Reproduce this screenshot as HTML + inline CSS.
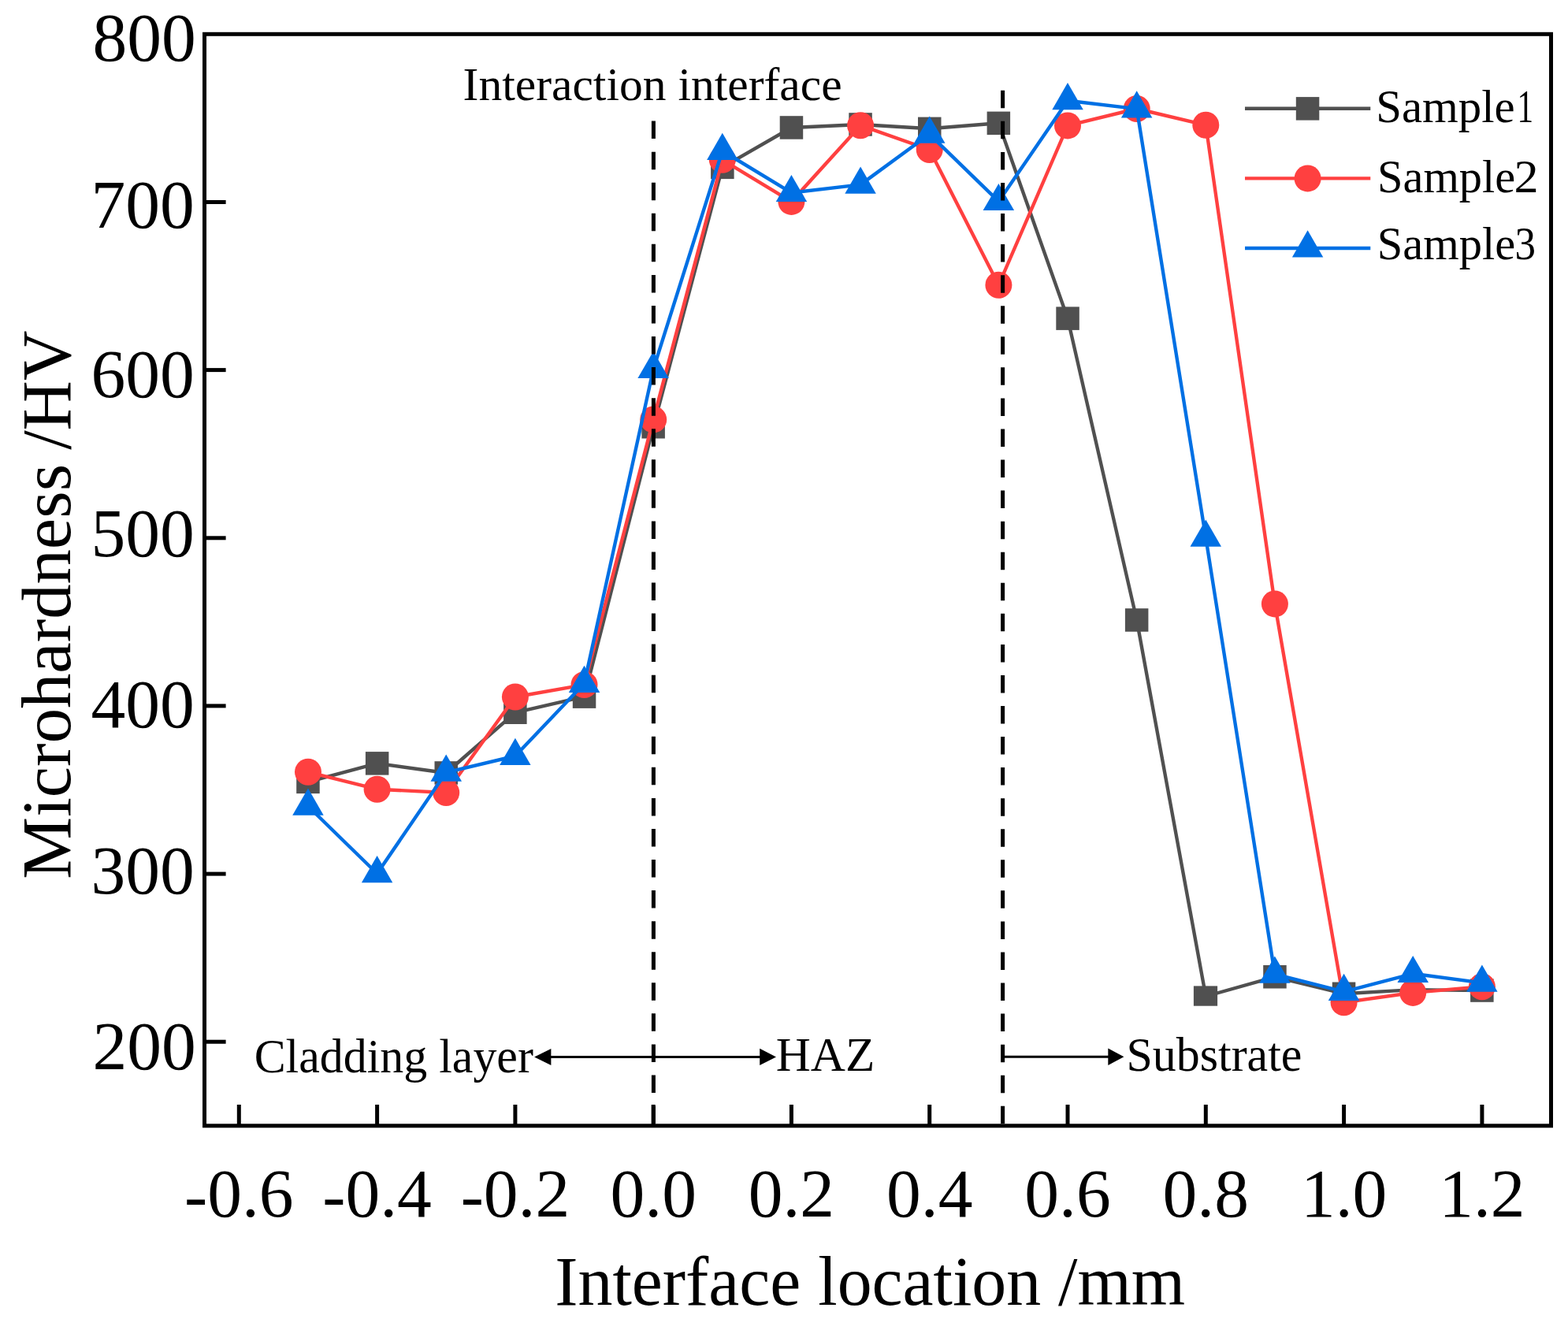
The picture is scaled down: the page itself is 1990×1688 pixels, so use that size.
<!DOCTYPE html>
<html><head><meta charset="utf-8"><title>Microhardness</title>
<style>html,body{margin:0;padding:0;background:#fff;}svg{display:block;}text{font-family:'Liberation Serif', 'Times New Roman', serif;fill:#000;}</style></head><body>
<svg width="1990" height="1688" viewBox="0 0 1990 1688">
<rect x="0" y="0" width="1990" height="1688" fill="#fff"/>
<polyline points="391.0,992.4 478.6,968.9 566.2,981.0 653.9,904.3 741.5,884.1 829.2,541.7 916.8,212.3 1004.4,162.0 1092.1,158.0 1179.7,163.3 1267.4,156.3 1355.0,404.1 1442.7,787.0 1530.3,1264.5 1617.9,1239.8 1705.6,1261.2 1793.2,1256.1 1880.9,1257.1" fill="none" stroke="#505050" stroke-width="4.4" stroke-linejoin="round" stroke-linecap="round"/>
<rect x="376.2" y="977.6" width="29.5" height="29.5" fill="#505050"/>
<rect x="463.9" y="954.1" width="29.5" height="29.5" fill="#505050"/>
<rect x="551.5" y="966.2" width="29.5" height="29.5" fill="#505050"/>
<rect x="639.1" y="889.5" width="29.5" height="29.5" fill="#505050"/>
<rect x="726.8" y="869.4" width="29.5" height="29.5" fill="#505050"/>
<rect x="814.4" y="527.0" width="29.5" height="29.5" fill="#505050"/>
<rect x="902.1" y="197.6" width="29.5" height="29.5" fill="#505050"/>
<rect x="989.7" y="147.2" width="29.5" height="29.5" fill="#505050"/>
<rect x="1077.3" y="143.2" width="29.5" height="29.5" fill="#505050"/>
<rect x="1165.0" y="148.6" width="29.5" height="29.5" fill="#505050"/>
<rect x="1252.6" y="141.6" width="29.5" height="29.5" fill="#505050"/>
<rect x="1340.3" y="389.4" width="29.5" height="29.5" fill="#505050"/>
<rect x="1427.9" y="772.2" width="29.5" height="29.5" fill="#505050"/>
<rect x="1514.9" y="1251.4" width="30.2" height="25.3" fill="#505050"/>
<rect x="1603.2" y="1225.0" width="29.5" height="29.5" fill="#505050"/>
<rect x="1690.8" y="1246.5" width="29.5" height="29.5" fill="#505050"/>
<rect x="1866.1" y="1242.3" width="29.5" height="29.5" fill="#505050"/>
<polyline points="391.0,979.8 478.6,1001.7 566.2,1006.0 653.9,884.5 741.5,869.1 829.2,532.4 916.8,202.8 1004.4,255.9 1092.1,159.2 1179.7,190.0 1267.4,361.8 1355.0,159.4 1442.7,138.0 1530.3,158.8 1617.9,766.4 1705.6,1272.2 1793.2,1259.9 1880.9,1252.2" fill="none" stroke="#FF4040" stroke-width="4.4" stroke-linejoin="round" stroke-linecap="round"/>
<circle cx="391.0" cy="979.8" r="17.0" fill="#FF4040"/>
<circle cx="478.6" cy="1001.7" r="17.0" fill="#FF4040"/>
<circle cx="566.2" cy="1006.0" r="17.0" fill="#FF4040"/>
<circle cx="653.9" cy="884.5" r="17.0" fill="#FF4040"/>
<circle cx="741.5" cy="869.1" r="17.0" fill="#FF4040"/>
<circle cx="829.2" cy="532.4" r="17.0" fill="#FF4040"/>
<circle cx="916.8" cy="202.8" r="17.0" fill="#FF4040"/>
<circle cx="1004.4" cy="255.9" r="17.0" fill="#FF4040"/>
<circle cx="1092.1" cy="159.2" r="17.0" fill="#FF4040"/>
<circle cx="1179.7" cy="190.0" r="17.0" fill="#FF4040"/>
<circle cx="1267.4" cy="361.8" r="17.0" fill="#FF4040"/>
<circle cx="1355.0" cy="159.4" r="17.0" fill="#FF4040"/>
<circle cx="1442.7" cy="138.0" r="17.0" fill="#FF4040"/>
<circle cx="1530.3" cy="158.8" r="17.0" fill="#FF4040"/>
<circle cx="1617.9" cy="766.4" r="17.0" fill="#FF4040"/>
<circle cx="1705.6" cy="1272.2" r="17.0" fill="#FF4040"/>
<circle cx="1793.2" cy="1259.9" r="17.0" fill="#FF4040"/>
<circle cx="1880.9" cy="1252.2" r="17.0" fill="#FF4040"/>
<polyline points="391.0,1023.3 478.6,1108.8 566.2,980.3 653.9,959.5 741.5,867.5 829.2,468.5 916.8,191.5 1004.4,244.7 1092.1,234.4 1179.7,170.3 1267.4,255.7 1355.0,127.8 1442.7,138.1 1530.3,682.4 1617.9,1236.3 1705.6,1258.6 1793.2,1235.7 1880.9,1247.4" fill="none" stroke="#0070E4" stroke-width="4.4" stroke-linejoin="round" stroke-linecap="round"/>
<polygon points="391.0,1000.5 410.7,1034.7 371.2,1034.7" fill="#0070E4"/>
<polygon points="478.6,1086.0 498.3,1120.2 458.9,1120.2" fill="#0070E4"/>
<polygon points="566.2,957.5 586.0,991.7 546.5,991.7" fill="#0070E4"/>
<polygon points="653.9,936.7 673.6,970.9 634.1,970.9" fill="#0070E4"/>
<polygon points="741.5,844.7 761.3,878.9 721.8,878.9" fill="#0070E4"/>
<polygon points="829.2,445.7 848.9,479.9 809.4,479.9" fill="#0070E4"/>
<polygon points="916.8,168.7 936.6,202.9 897.1,202.9" fill="#0070E4"/>
<polygon points="1004.4,221.9 1024.2,256.1 984.7,256.1" fill="#0070E4"/>
<polygon points="1092.1,211.6 1111.8,245.8 1072.3,245.8" fill="#0070E4"/>
<polygon points="1179.7,147.5 1199.5,181.7 1160.0,181.7" fill="#0070E4"/>
<polygon points="1267.4,232.9 1287.1,267.1 1247.6,267.1" fill="#0070E4"/>
<polygon points="1355.0,105.0 1374.8,139.2 1335.3,139.2" fill="#0070E4"/>
<polygon points="1442.7,115.3 1462.4,149.5 1422.9,149.5" fill="#0070E4"/>
<polygon points="1530.3,659.6 1550.0,693.8 1510.5,693.8" fill="#0070E4"/>
<polygon points="1617.9,1213.5 1637.7,1247.7 1598.2,1247.7" fill="#0070E4"/>
<polygon points="1705.6,1235.8 1725.3,1270.0 1685.8,1270.0" fill="#0070E4"/>
<polygon points="1793.2,1212.9 1813.0,1247.1 1773.5,1247.1" fill="#0070E4"/>
<polygon points="1880.9,1224.6 1900.6,1258.8 1861.1,1258.8" fill="#0070E4"/>
<line x1="829.4" y1="153.6" x2="829.4" y2="1428" stroke="#000" stroke-width="5" stroke-dasharray="22.5 16.56"/>
<line x1="1272.6" y1="114.8" x2="1272.6" y2="1428" stroke="#000" stroke-width="5" stroke-dasharray="22.5 16.56"/>
<line x1="695" y1="1341.4" x2="968" y2="1341.4" stroke="#000" stroke-width="3"/>
<polygon points="678.1,1341.4 699.4,1330.9 699.4,1351.9" fill="#000"/>
<polygon points="985,1341.5 964.2,1330.8 964.2,1352" fill="#000"/>
<line x1="1272.6" y1="1341.2" x2="1410" y2="1341.2" stroke="#000" stroke-width="3"/>
<polygon points="1426.4,1341.2 1406.3,1330.6 1406.3,1351.9" fill="#000"/>
<rect x="259.5" y="43.3" width="1709.0" height="1385.5" fill="none" stroke="#000" stroke-width="5"/>
<line x1="259.5" y1="1322.2" x2="286.6" y2="1322.2" stroke="#000" stroke-width="5"/>
<line x1="259.5" y1="1109.1" x2="286.6" y2="1109.1" stroke="#000" stroke-width="5"/>
<line x1="259.5" y1="895.9" x2="286.6" y2="895.9" stroke="#000" stroke-width="5"/>
<line x1="259.5" y1="682.8" x2="286.6" y2="682.8" stroke="#000" stroke-width="5"/>
<line x1="259.5" y1="469.6" x2="286.6" y2="469.6" stroke="#000" stroke-width="5"/>
<line x1="259.5" y1="256.5" x2="286.6" y2="256.5" stroke="#000" stroke-width="5"/>
<line x1="303.3" y1="1428.8" x2="303.3" y2="1402" stroke="#000" stroke-width="5"/>
<line x1="478.6" y1="1428.8" x2="478.6" y2="1402" stroke="#000" stroke-width="5"/>
<line x1="653.9" y1="1428.8" x2="653.9" y2="1402" stroke="#000" stroke-width="5"/>
<line x1="829.2" y1="1428.8" x2="829.2" y2="1402" stroke="#000" stroke-width="5"/>
<line x1="1004.4" y1="1428.8" x2="1004.4" y2="1402" stroke="#000" stroke-width="5"/>
<line x1="1179.7" y1="1428.8" x2="1179.7" y2="1402" stroke="#000" stroke-width="5"/>
<line x1="1355.0" y1="1428.8" x2="1355.0" y2="1402" stroke="#000" stroke-width="5"/>
<line x1="1530.3" y1="1428.8" x2="1530.3" y2="1402" stroke="#000" stroke-width="5"/>
<line x1="1705.6" y1="1428.8" x2="1705.6" y2="1402" stroke="#000" stroke-width="5"/>
<line x1="1880.9" y1="1428.8" x2="1880.9" y2="1402" stroke="#000" stroke-width="5"/>
<text x="248.8" y="76.6" font-size="87.5" text-anchor="end">800</text>
<text x="246.7" y="288.6" font-size="87.5" text-anchor="end">700</text>
<text x="246.7" y="503.6" font-size="87.5" text-anchor="end">600</text>
<text x="246.7" y="705.6" font-size="87.5" text-anchor="end">500</text>
<text x="246.7" y="923.1" font-size="87.5" text-anchor="end">400</text>
<text x="246.7" y="1133.6" font-size="87.5" text-anchor="end">300</text>
<text x="248.8" y="1356.6" font-size="87.5" text-anchor="end">200</text>
<text x="303.3" y="1544" font-size="87.5" text-anchor="middle"><tspan dy="2.3">-</tspan><tspan dy="-2.3">0.6</tspan></text>
<text x="478.6" y="1544" font-size="87.5" text-anchor="middle"><tspan dy="2.3">-</tspan><tspan dy="-2.3">0.4</tspan></text>
<text x="653.9" y="1544" font-size="87.5" text-anchor="middle"><tspan dy="2.3">-</tspan><tspan dy="-2.3">0.2</tspan></text>
<text x="829.2" y="1544" font-size="87.5" text-anchor="middle">0.0</text>
<text x="1004.4" y="1544" font-size="87.5" text-anchor="middle">0.2</text>
<text x="1179.7" y="1544" font-size="87.5" text-anchor="middle">0.4</text>
<text x="1355.0" y="1544" font-size="87.5" text-anchor="middle">0.6</text>
<text x="1530.3" y="1544" font-size="87.5" text-anchor="middle">0.8</text>
<text x="1705.6" y="1544" font-size="87.5" text-anchor="middle">1.0</text>
<text x="1880.9" y="1544" font-size="87.5" text-anchor="middle">1.2</text>
<text transform="translate(704.25,1656.40) scale(0.9838,1)" x="0" y="0" font-size="89.3">Interface location /mm</text>
<text transform="translate(88.8,1115.7) rotate(-90) scale(0.9985,1)" x="0" y="0" font-size="88.8">Microhardness <tspan x="545.72" textLength="151.54" lengthAdjust="spacingAndGlyphs">/HV</tspan></text>
<text transform="translate(587.60,127.00) scale(0.9927,1)" x="0" y="0" font-size="60">Interaction interface</text>
<text transform="translate(322.65,1360.60) scale(0.9818,1)" x="0" y="0" font-size="61">Cladding layer</text>
<text transform="translate(984.70,1358.80) scale(1.0025,1)" x="0" y="0" font-size="61">HAZ</text>
<text transform="translate(1429.50,1358.70) scale(0.9820,1)" x="0" y="0" font-size="61">Substrate</text>
<line x1="1580" y1="137.8" x2="1739.3" y2="137.8" stroke="#505050" stroke-width="4.4"/>
<rect x="1644.8" y="123.1" width="29.5" height="29.5" fill="#505050"/>
<text transform="translate(1746.30,154.70) scale(0.9805,1)" x="0" y="0" font-size="60">Sample<tspan x="182.87" textLength="20.99" lengthAdjust="spacingAndGlyphs">1</tspan></text>
<line x1="1580" y1="226.4" x2="1739.3" y2="226.4" stroke="#FF4040" stroke-width="4.4"/>
<circle cx="1659.6" cy="226.4" r="17.0" fill="#FF4040"/>
<text transform="translate(1748.00,243.60) scale(0.9736,1)" x="0" y="0" font-size="60">Sample<tspan x="178.20" textLength="31.97" lengthAdjust="spacingAndGlyphs">2</tspan></text>
<line x1="1580" y1="315.0" x2="1739.3" y2="315.0" stroke="#0070E4" stroke-width="4.4"/>
<polygon points="1659.6,292.2 1679.3,326.4 1639.9,326.4" fill="#0070E4"/>
<text transform="translate(1747.70,328.60) scale(0.9753,1)" x="0" y="0" font-size="60">Sample<tspan x="179.28" textLength="27.19" lengthAdjust="spacingAndGlyphs">3</tspan></text>
</svg></body></html>
